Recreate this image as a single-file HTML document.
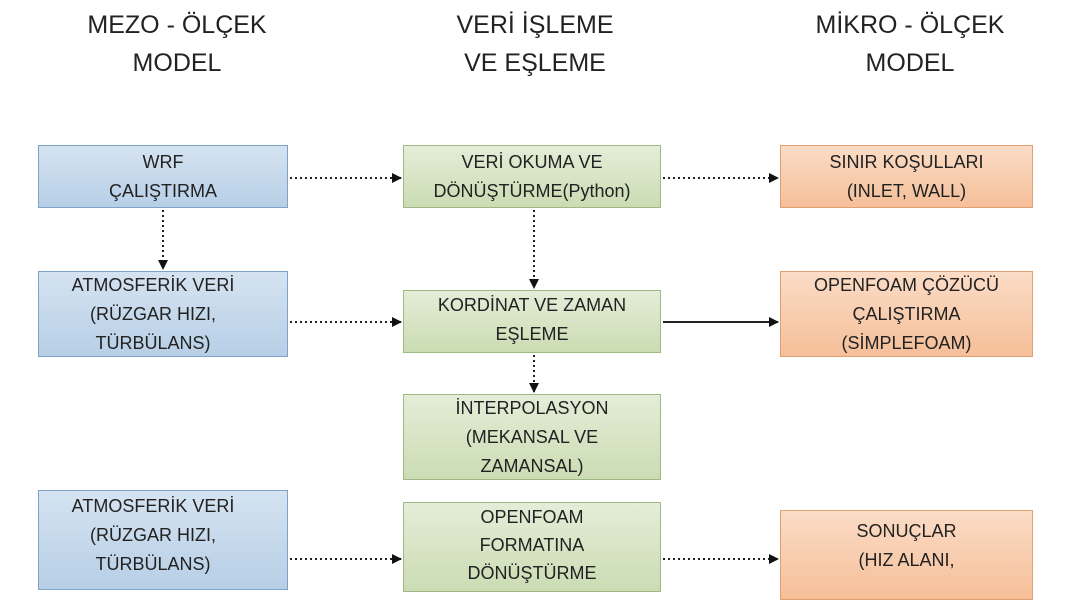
<!DOCTYPE html>
<html><head><meta charset="utf-8"><style>
body{margin:0;width:1068px;height:580px;background:#fff;position:relative;overflow:hidden;font-family:"Liberation Sans",sans-serif;}
.h{position:absolute;text-align:center;font-size:25px;line-height:38px;color:#222;width:300px}
.b{position:absolute;box-sizing:border-box;display:flex;align-items:center;justify-content:center;text-align:center;font-size:18px;line-height:29px;color:#222}
.bl{background:linear-gradient(#d5e3f1,#b7cfe6);border:1.5px solid #7fa3c8}
.gr{background:linear-gradient(#e4edd8,#cbdcb3);border:1.5px solid #9fb985}
.or{background:linear-gradient(#fbdcc6,#f5bf99);border:1.5px solid #e0a070}
</style></head><body>
<div class="h" style="left:27px;top:6px">MEZO - ÖLÇEK<br>MODEL</div>
<div class="h" style="left:385px;top:6px">VERİ İŞLEME<br>VE EŞLEME</div>
<div class="h" style="left:760px;top:6px">MİKRO - ÖLÇEK<br>MODEL</div>

<div class="b bl" style="left:38px;top:145px;width:250px;height:63px">WRF<br>ÇALIŞTIRMA</div>
<div class="b bl" style="left:38px;top:271px;width:250px;height:86px;padding-right:20px">ATMOSFERİK VERİ<br>(RÜZGAR HIZI,<br>TÜRBÜLANS)</div>
<div class="b bl" style="left:38px;top:490px;width:250px;height:100px;padding-right:20px;padding-bottom:10px">ATMOSFERİK VERİ<br>(RÜZGAR HIZI,<br>TÜRBÜLANS)</div>

<div class="b gr" style="left:403px;top:145px;width:258px;height:63px">VERİ OKUMA VE<br>DÖNÜŞTÜRME(Python)</div>
<div class="b gr" style="left:403px;top:290px;width:258px;height:63px;align-items:flex-start;padding-top:0">KORDİNAT VE ZAMAN<br>EŞLEME</div>
<div class="b gr" style="left:403px;top:394px;width:258px;height:86px">İNTERPOLASYON<br>(MEKANSAL VE<br>ZAMANSAL)</div>
<div class="b gr" style="left:403px;top:508px;width:258px;height:90px;align-items:flex-start;line-height:28px;padding-top:0;margin-top:-6px">OPENFOAM<br>FORMATINA<br>DÖNÜŞTÜRME</div>

<div class="b or" style="left:780px;top:145px;width:253px;height:63px">SINIR KOŞULLARI<br>(INLET, WALL)</div>
<div class="b or" style="left:780px;top:271px;width:253px;height:86px">OPENFOAM ÇÖZÜCÜ<br>ÇALIŞTIRMA<br>(SİMPLEFOAM)</div>
<div class="b or" style="left:780px;top:510px;width:253px;height:90px;align-items:flex-start;padding-top:6px">SONUÇLAR<br>(HIZ ALANI,</div>

<svg width="1068" height="580" style="position:absolute;left:0;top:0">
<defs><marker id="a" markerWidth="10" markerHeight="10" refX="9" refY="5" orient="auto" markerUnits="userSpaceOnUse"><path d="M0,0L10,5L0,10z" fill="#111"/></marker></defs>
<g stroke="#222" stroke-width="2" stroke-dasharray="2,3" fill="none" marker-end="url(#a)">
<line x1="290" y1="178" x2="401" y2="178"/>
<line x1="663" y1="178" x2="778" y2="178"/>
<line x1="163" y1="210" x2="163" y2="269"/>
<line x1="534" y1="210" x2="534" y2="288"/>
<line x1="290" y1="322" x2="401" y2="322"/>
<line x1="534" y1="355" x2="534" y2="392"/>
<line x1="290" y1="559" x2="401" y2="559"/>
<line x1="663" y1="559" x2="778" y2="559"/>
</g>
<line x1="663" y1="322" x2="778" y2="322" stroke="#222" stroke-width="2" marker-end="url(#a)"/>
</svg>
</body></html>
